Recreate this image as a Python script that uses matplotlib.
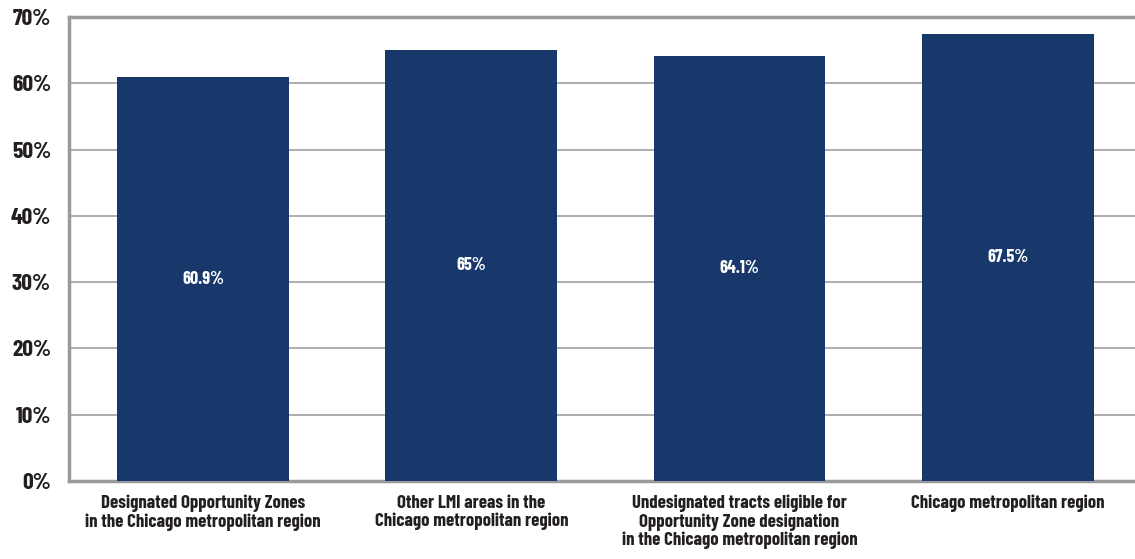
import matplotlib.pyplot as plt

categories = ["Designated Opportunity Zones\nin the Chicago metropolitan region",
              "Other LMI areas in the\nChicago metropolitan region",
              "Undesignated tracts eligible for\nOpportunity Zone designation\nin the Chicago metropolitan region",
              "Chicago metropolitan region"]
values = [60.9, 65.0, 64.1, 67.5]
value_labels = ["60.9%", "65%", "64.1%", "67.5%"]
yticks = [0, 10, 20, 30, 40, 50, 60, 70]

plt.rcParams['font.family'] = ['Barlow Condensed', 'DejaVu Sans']
plt.rcParams['font.weight'] = 'bold'

fig = plt.figure(figsize=(11.35, 5.59), dpi=100)
ax = fig.add_axes([0.0608, 0.1395, 0.9452, 0.8301])

x = range(len(categories))
bars = ax.bar(x, values, width=0.64, color="#18386b", zorder=3)
for b, lab in zip(bars, value_labels):
    ax.text(b.get_x() + b.get_width() / 2, b.get_height() / 2, lab,
            ha="center", va="center", color="white", fontsize=13, fontweight="bold", zorder=4)

ax.set_xlim(-0.5, 3.5)
ax.set_ylim(0, 70)
ax.set_yticks(yticks)
ax.set_yticklabels([f"{t}%" for t in yticks], fontsize=17, fontweight="bold", color="#231f20")
ax.set_xticks(list(x))
ax.set_xticklabels(categories, fontsize=13.5, fontweight="bold", color="#231f20", linespacing=1.05)
ax.tick_params(axis="both", length=0)
ax.tick_params(axis="y", pad=13)
ax.tick_params(axis="x", pad=10)

ax.grid(axis="y", color="#a0a0a2", linewidth=1.2, zorder=0)
for s in ["left", "bottom", "top"]:
    ax.spines[s].set_color("#9a9a9c")
    ax.spines[s].set_linewidth(2.5)
ax.spines["right"].set_visible(False)

fig.savefig("out.png", dpi=100)
